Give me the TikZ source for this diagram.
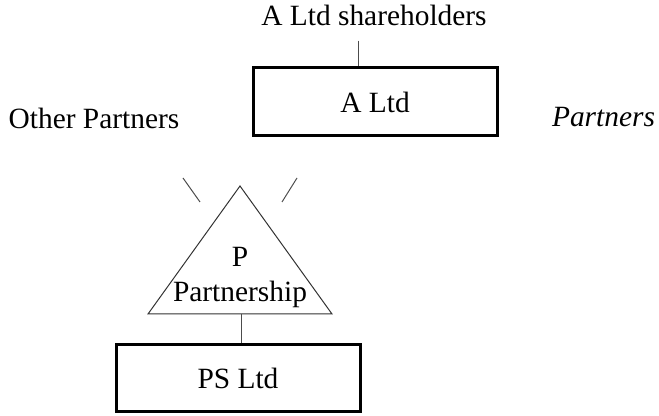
\documentclass[tikz,border=0pt]{standalone}
\usepackage{fontspec}
\setmainfont{Liberation Serif}
\usetikzlibrary{positioning}
\begin{document}
\begin{tikzpicture}[
    x=0.5pt, y=-0.5pt,
    lbl/.style={font=\fontsize{14.7}{17.5}\selectfont, inner sep=0pt},
    company/.style={lbl, draw, line width=1.5pt, minimum width=122pt, minimum height=34pt},
    link/.style={draw=black!70, line width=0.5pt},
]
\useasboundingbox (0,0) rectangle (659,416);

% companies and holders
\node[lbl, anchor=base] (sh) at (374,26) {A Ltd shareholders};
\node[company] (altd) at (375,102) {A Ltd};
\node[company, minimum height=33.5pt] (psltd) at (238,378.5) {PS Ltd};
\node[lbl, anchor=base] (others) at (94,129) {Other Partners};
\node[lbl, anchor=base, font=\fontsize{14.7}{17.5}\selectfont\itshape] (partners) at (603.5,127) {Partners};

% partnership triangle
\coordinate (tri-top) at (240,186);
\coordinate (tri-left) at (148,314);
\coordinate (tri-right) at (332,314);
\coordinate (tri-base) at (241,314);
\draw[black!80, line width=0.5pt] (tri-top) -- (tri-right) -- (tri-left) -- cycle;
\node[lbl, align=center] (pship) at (240,278) {P\\Partnership};

% cut links into the partnership
\coordinate (op-from) at (183,178);
\coordinate (op-to) at (200,202);
\coordinate (pt-from) at (297,178);
\coordinate (pt-to) at (282,202);
\draw[link] (op-from) -- (op-to);
\draw[link] (pt-from) -- (pt-to);

\draw[link] ([xshift=-8pt,yshift=-7pt]sh.south) -- ([xshift=-8.5pt]altd.north);
\draw[link] (tri-base) -- (psltd.north -| tri-base);
\end{tikzpicture}
\end{document}
